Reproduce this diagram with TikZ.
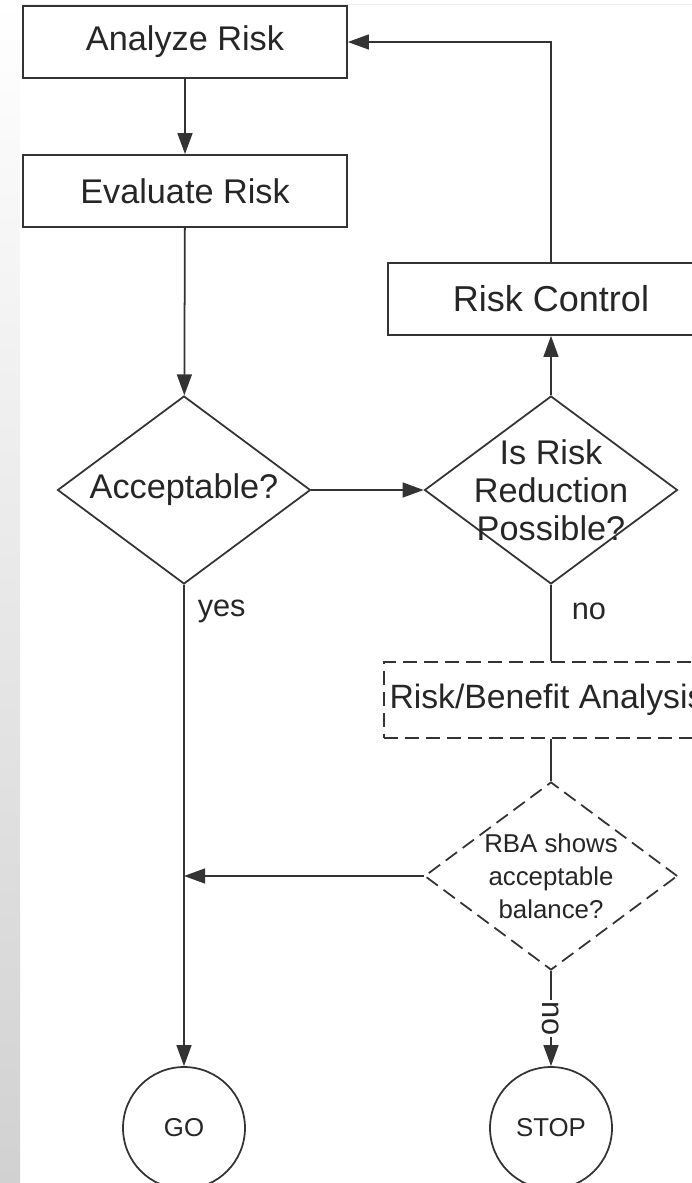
\documentclass[tikz,border=0pt]{standalone}
\usepackage{fontspec}
\setmainfont{Liberation Sans}
\usetikzlibrary{shapes}
\usetikzlibrary{shapes.geometric}
\usetikzlibrary{positioning}
\usetikzlibrary{arrows.meta}
\tikzset{
    stepbox/.style = {rectangle, line width=1pt, draw=black!80, minimum width=6.48cm, minimum height=1.44cm, text=black!85, font=\fontsize{19.5}{22}\selectfont},
    stepboxd/.style = {stepbox, dash pattern=on 8pt off 4pt},
    decision/.style = {diamond, aspect=1.34, line width=1pt, draw=black!80, inner sep=-6pt, minimum width=5.06cm, minimum height=3.76cm, align=center, text=black!85, font=\fontsize{19.5}{21.6}\selectfont},
    decisiond/.style = {decision, dash pattern=on 8pt off 4pt, font=\fontsize{14.7}{18.8}\selectfont},
    endnode/.style = {circle, line width=1pt, draw=black!80, minimum size=2.44cm, text=black!85, font=\fontsize{14.7}{17}\selectfont},
    edgen/.style = {-{Triangle[length=12pt,width=8.5pt]}, line width=1pt, draw=black!80},
    linen/.style = {line width=1pt, draw=black!80},
    lbl/.style = {text=black!85, font=\fontsize{17.5}{20}\selectfont}
}

\begin{document}
\begin{tikzpicture}[x=0.02cm, y=-0.02cm]
\clip (0,0) rectangle (692,1183);
\shade[top color=white, bottom color=black!18] (0,0) rectangle (20,1183);
\draw[black!7] (20,4) -- (692,4);
%
\node[stepbox] at (185, 42) (ar) {Analyze Risk};
\node[stepbox] at (185, 191) (er) {Evaluate Risk};
\node[decision] at (184, 490) (acc) {Acceptable?};
\node[decision] at (551, 490) (isr) {Is Risk\\Reduction\\Possible?};
\node[stepbox, minimum width=6.52cm, font=\fontsize{20.5}{23}\selectfont] at (551, 299) (rc) {Risk Control};
\node[stepboxd, minimum width=6.48cm, minimum height=1.52cm, font=\fontsize{19.2}{22}\selectfont] at (547, 700) (rba) {Risk/Benefit Analysis};
\node[decisiond] at (551, 876) (rbad) {RBA shows\\acceptable\\balance?};
\node[endnode] at (184, 1128) (go) {GO};
\node[endnode] at (551, 1128) (stop) {STOP};
\coordinate (j) at (184, 876);
%
\draw[edgen] (ar) -- (er);
\draw[edgen] (er) -- (acc);
\draw[edgen] (acc) -- (isr);
\draw[edgen] (isr) -- (rc);
\draw[edgen] (rc) |- (ar);
\draw[linen] (isr) -- node[pos=0.35, right, lbl, xshift=8pt] {no} (isr |- rba.north);
\draw[linen] (isr |- rba.south) -- (rbad);
\draw[edgen] (rbad) -- (j);
\draw[edgen] (acc) -- node[pos=0.056, right, lbl, xshift=4pt] {yes} (go);
\draw[edgen] (rbad) -- node[pos=0.5, lbl, fill=white, inner sep=1pt, rotate=-90] {no} (stop);
\end{tikzpicture}
\end{document}
